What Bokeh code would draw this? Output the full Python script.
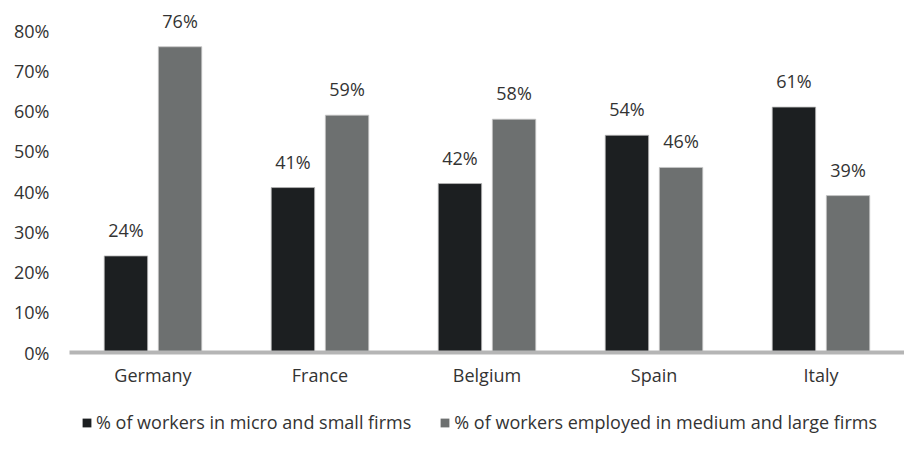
from bokeh.plotting import figure
from bokeh.layouts import column
from bokeh.models import ColumnDataSource, FactorRange, FixedTicker, NumeralTickFormatter, Legend, LegendItem, Range1d
from bokeh.transform import dodge
from bokeh.core.properties import value
from bokeh.embed import file_html
from bokeh.resources import INLINE

countries = ["Germany", "France", "Belgium", "Spain", "Italy"]
small_firms = [0.24, 0.41, 0.42, 0.54, 0.61]
large_firms = [0.76, 0.59, 0.58, 0.46, 0.39]
y_ticks = [0, 0.1, 0.2, 0.3, 0.4, 0.5, 0.6, 0.7, 0.8]
series_names = ["% of workers in micro and small firms",
                "% of workers employed in medium and large firms"]

FONT = "Open Sans"
TXT = "#333333"
DARK = "#1c1f21"
GREY = "#6d7070"

src = ColumnDataSource(dict(
    c=countries, s=small_firms, l=large_firms,
    sl=[f"{round(v*100)}%" for v in small_firms],
    ll=[f"{round(v*100)}%" for v in large_firms],
))

xr = FactorRange(*countries, range_padding=0)
p = figure(x_range=xr, y_range=(0, 0.875),
           width=904, height=400, output_backend="svg", toolbar_location=None,
           min_border_left=69, min_border_right=0, min_border_top=0, min_border_bottom=48)
p.outline_line_color = None
p.grid.grid_line_color = None

p.vbar(x=dodge("c", -0.162, range=xr), top="s", width=0.26, source=src,
       fill_color=DARK, line_color="#b8b8b8", line_width=0.8)
p.vbar(x=dodge("c", 0.162, range=xr), top="l", width=0.26, source=src,
       fill_color=GREY, line_color="#c8c8c8", line_width=0.8)

for col, lab, off in (("s", "sl", -0.162), ("l", "ll", 0.162)):
    p.text(x=dodge("c", off, range=xr), y=col, text=lab, source=src,
           text_align="center", text_baseline="alphabetic", y_offset=-26,
           text_font_size="18px", text_color=TXT, text_font=value(FONT))

p.yaxis.ticker = FixedTicker(ticks=y_ticks)
p.yaxis.formatter = NumeralTickFormatter(format="0%")
p.yaxis.axis_line_color = None
p.yaxis.major_tick_line_color = None
p.yaxis.minor_tick_line_color = None
p.yaxis.major_label_standoff = 14
p.yaxis.major_label_text_font_size = "18px"
p.yaxis.major_label_text_font = FONT
p.yaxis.major_label_text_color = TXT

p.xaxis.axis_line_color = "#b5b5b5"
p.xaxis.axis_line_width = 4
p.xaxis.major_tick_line_color = None
p.xaxis.minor_tick_line_color = None
p.xaxis.major_label_standoff = 4
p.xaxis.major_label_text_font_size = "18px"
p.xaxis.major_label_text_font = FONT
p.xaxis.major_label_text_color = TXT

# legend strip (its bars sit outside its visible y-range, only the legend shows)
lg = figure(x_range=xr, y_range=Range1d(5, 6), width=904, height=37,
            output_backend="svg", toolbar_location=None,
            x_axis_type=None, y_axis_type=None,
            min_border_left=0, min_border_right=0, min_border_top=0, min_border_bottom=0)
lg.outline_line_color = None
lg.grid.grid_line_color = None
k1 = lg.vbar(x=dodge("c", -0.162, range=xr), top="s", width=0.26, source=src,
             fill_color=DARK, line_color=None)
k2 = lg.vbar(x=dodge("c", 0.162, range=xr), top="l", width=0.26, source=src,
             fill_color=GREY, line_color=None)
leg = Legend(items=[LegendItem(label=series_names[0], renderers=[k1]),
                    LegendItem(label=series_names[1], renderers=[k2])],
             orientation="horizontal", location=(12, 3),
             padding=0, margin=0, spacing=28, border_line_color=None,
             background_fill_alpha=0, glyph_width=11, glyph_height=11, label_standoff=4,
             label_text_font_size="18px", label_text_font=FONT, label_text_color=TXT,
             label_height=20)
lg.add_layout(leg, "center")

layout = column(p, lg, spacing=0)
open("out.html", "w").write(file_html(layout, INLINE))
